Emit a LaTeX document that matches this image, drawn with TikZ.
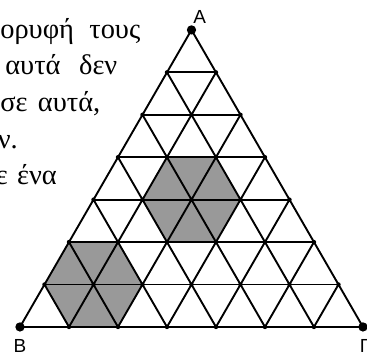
\documentclass[tikz,border=0pt]{standalone}
\usepackage{fontspec}
\setmainfont{Liberation Serif}
\newfontfamily\labelfont{Liberation Sans}

\begin{document}
\begin{tikzpicture}[>=stealth, scale=1,
    grid/.style={line width=1.1pt, black},
    hexfill/.style={fill=black!40},
    textline/.style={anchor=base west, inner sep=0pt, font=\fontsize{16.5}{20}\selectfont},
    vertexlabel/.style={inner sep=0pt, font=\labelfont\fontsize{11}{13}\selectfont}]
    \useasboundingbox (-0.408,-0.551) rectangle (7.082,6.673);

    % Vertici
    \foreach \i in {0,...,7}
        \foreach \k in {0,...,\i}
            \coordinate (p-\i-\k) at ({3.5-0.5*\i+\k},{(7-\i)*0.8660});

    % Esagoni
    \fill[hexfill] (p-3-1) -- (p-3-2) -- (p-4-3) -- (p-5-3) -- (p-5-2) -- (p-4-1) -- cycle;
    \fill[hexfill] (p-5-0) -- (p-5-1) -- (p-6-2) -- (p-7-2) -- (p-7-1) -- (p-6-0) -- cycle;

    % Griglia
    \foreach \i in {1,...,7} \draw[grid] (p-\i-0) -- (p-\i-\i);
    \foreach \k in {0,...,6} \draw[grid] (p-\k-\k) -- (p-7-\k);
    \foreach \j [evaluate=\j as \m using int(7-\j)] in {0,...,6} \draw[grid] (p-\j-0) -- (p-7-\m);

    % Punti
    \foreach \i in {0,...,7}
        \foreach \k in {0,...,\i}
            \fill (p-\i-\k) circle (0.045);
    \fill (p-0-0) circle (0.095);
    \fill (p-7-0) circle (0.095);
    \fill (p-7-7) circle (0.095);

    % Etichette
    \node[vertexlabel] (labA) at (3.67,6.33) {Α};
    \node[vertexlabel] (labB) at (0,-0.39) {Β};
    \node[vertexlabel, anchor=west] (labG) at (6.93,-0.39) {Γ};

    % Testo
    \node[textline] (line1) at (-0.408,5.878) {\makebox[2.857cm][s]{ορυφή τους}};
    \node[textline] (line2) at (-0.306,5.143) {\makebox[2.286cm][s]{αυτά δεν}};
    \node[textline] (line3) at (-0.408,4.388) {\makebox[2.04cm][s]{σε αυτά,}};
    \node[textline] (line4) at (-0.46,3.633) {ν.};
    \node[textline] (line5) at (-0.5,2.898) {\makebox[1.245cm][s]{ε ένα}};
\end{tikzpicture}
\end{document}
